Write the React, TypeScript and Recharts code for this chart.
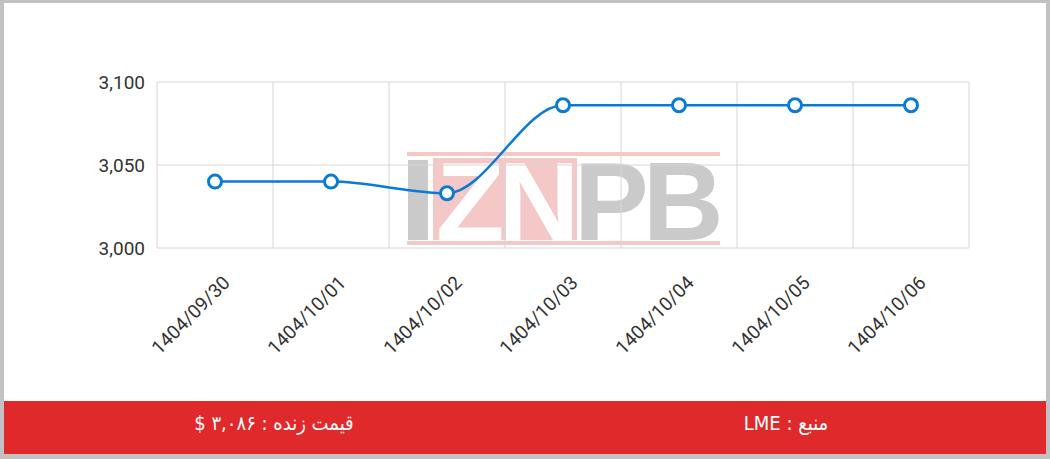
import React from 'react';
import { LineChart, Line, XAxis, YAxis, CartesianGrid } from 'recharts';

const dates = ['1404/09/30', '1404/10/01', '1404/10/02', '1404/10/03', '1404/10/04', '1404/10/05', '1404/10/06'];
const prices = [3040, 3040, 3033, 3086, 3086, 3086, 3086];
const yTicks = [3000, 3050, 3100];
const livePriceText = 'قیمت زنده : ۳,۰۸۶ $';
const sourceText = 'منبع : LME';

const data = dates.map((date, i) => ({ date, price: prices[i] }));

const blue = '#0a7bd5';

const DateTick = (props: any) => {
  const { x, y, payload } = props;
  const px = x + 16;
  const py = y + 34;
  return (
    <text
      x={px}
      y={py}
      transform={`rotate(-45, ${px}, ${py})`}
      textAnchor="end"
      fill="#333"
      fontSize={19}
      fontFamily="Roboto, sans-serif"
    >
      {payload.value}
    </text>
  );
};

const Watermark = () => (
  <svg width={1050} height={459} style={{ position: 'absolute', left: 0, top: 0 }}>
    <g opacity={0.6}>
      <rect x={407} y={152} width={313} height={4} fill="#f0a5a5" />
      <rect x={407} y={241} width={313} height={4} fill="#f0a5a5" />
      <rect x={433} y={158} width={144} height={82} fill="#f0a5a5" />
      <rect x={408} y={160} width={20} height={80} fill="#a8a8a8" />
      <text x={436} y={240} fontSize={112} fontWeight={700} fill="#fff" fontFamily="Liberation Sans, Arial, sans-serif" letterSpacing={-6}>
        ZN
      </text>
      <text x={574} y={240} fontSize={112} fontWeight={700} fill="#a8a8a8" fontFamily="Liberation Sans, Arial, sans-serif" letterSpacing={-6}>
        PB
      </text>
    </g>
  </svg>
);

export default function App() {
  return (
    <div style={{ position: 'absolute', left: 0, top: 0, width: 1050, height: 459, background: '#fff', overflow: 'hidden' }}>
      <Watermark />
      <div style={{ position: 'absolute', left: 0, top: 0 }}>
        <LineChart width={1050} height={400} data={data} margin={{ top: 82, right: 81, bottom: 32, left: 0 }}>
          <CartesianGrid
            stroke="#d6d6d6"
            verticalCoordinatesGenerator={({ offset }: any) =>
              dates.map((_, i) => offset.left + (i * offset.width) / dates.length).concat(offset.left + offset.width)
            }
          />
          <XAxis
            dataKey="date"
            interval={0}
            padding={{ left: 58, right: 58 }}
            axisLine={false}
            tickLine={false}
            tickSize={0}
            height={120}
            tick={<DateTick />}
          />
          <YAxis
            domain={[3000, 3100]}
            ticks={yTicks}
            width={157}
            axisLine={false}
            tickLine={false}
            tickSize={0}
            tickMargin={12}
            tickFormatter={(v: number) => v.toLocaleString('en-US')}
            tick={{ fill: '#333', fontSize: 19, fontFamily: 'Roboto, sans-serif' }}
          />
          <Line
            type="monotone"
            dataKey="price"
            stroke={blue}
            strokeWidth={2.5}
            dot={{ r: 6.5, fill: '#fff', stroke: blue, strokeWidth: 3 }}
            isAnimationActive={false}
          />
        </LineChart>
      </div>
      <div
        style={{
          position: 'absolute',
          left: 4,
          top: 401,
          width: 1042,
          height: 53,
          background: '#e0292b',
          color: '#fff',
          fontFamily: '"DejaVu Sans Condensed", "DejaVu Sans", sans-serif',
          fontSize: 20,
        }}
      >
        <div dir="rtl" style={{ position: 'absolute', left: 120, width: 300, top: 10, textAlign: 'center' }}>
          {livePriceText}
        </div>
        <div dir="rtl" style={{ position: 'absolute', left: 632, width: 300, top: 10, textAlign: 'center' }}>
          {sourceText}
        </div>
      </div>
      <div
        style={{
          position: 'absolute',
          left: 0,
          top: 0,
          width: 1050,
          height: 459,
          boxSizing: 'border-box',
          borderStyle: 'solid',
          borderColor: '#c2c2c2',
          borderWidth: '3px 4px 5px 4px',
          pointerEvents: 'none',
        }}
      />
    </div>
  );
}
